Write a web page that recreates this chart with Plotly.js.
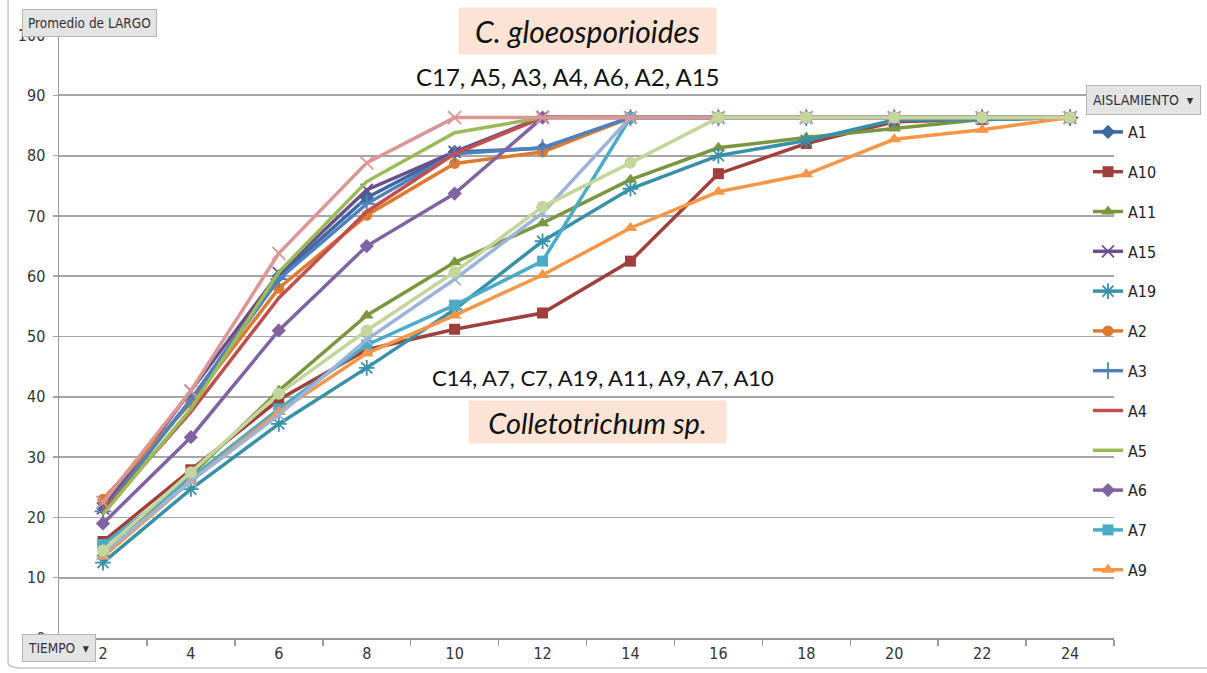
<!DOCTYPE html>
<html>
<head>
<meta charset="utf-8">
<script src="https://cdn.plot.ly/plotly-3.0.1.min.js"></script>
<style>html,body{margin:0;padding:0;background:#fff;}#chart{width:1207px;height:673px;}</style>
</head>
<body>
<div id="chart"></div>
<script>
// TIEMPO categories
const tiempo = ['2','4','6','8','10','12','14','16','18','20','22','24'];

// Promedio de LARGO per AISLAMIENTO
const A1  = [21.5, 39.5, 60.0, 73.0, 80.6, 81.2, 86.3, 86.3, 86.3, 86.3, 86.3, 86.3];
const A10 = [16.0, 27.9, 39.5, 47.8, 51.2, 53.9, 62.5, 77.0, 82.0, 85.6, 86.0, 86.3];
const A11 = [14.0, 27.0, 41.0, 53.5, 62.3, 68.8, 76.0, 81.3, 83.0, 84.5, 86.0, 86.3];
const A15 = [21.5, 41.0, 60.5, 74.3, 80.6, 86.4, 86.3, 86.3, 86.3, 86.3, 86.3, 86.3];
const A19 = [12.5, 24.7, 35.5, 44.8, 54.5, 65.8, 74.5, 80.0, 82.5, 85.9, 86.0, 86.3];
const A2  = [23.0, 39.0, 58.0, 70.1, 78.7, 80.6, 86.3, 86.3, 86.3, 86.3, 86.3, 86.3];
const A3  = [21.0, 39.5, 59.5, 72.0, 80.3, 81.3, 86.3, 86.3, 86.3, 86.3, 86.3, 86.3];
const A4  = [21.0, 37.5, 56.4, 70.7, 80.3, 86.3, 86.3, 86.3, 86.3, 86.3, 86.3, 86.3];
const A5  = [20.5, 38.0, 60.7, 75.7, 83.8, 86.3, 86.3, 86.3, 86.3, 86.3, 86.3, 86.3];
const A6  = [19.0, 33.3, 51.0, 65.0, 73.7, 86.3, 86.3, 86.3, 86.3, 86.3, 86.3, 86.3];
const A7  = [15.5, 26.5, 38.0, 48.6, 55.2, 62.5, 86.3, 86.3, 86.3, 86.3, 86.3, 86.3];
const A9  = [13.5, 26.0, 37.5, 47.2, 53.5, 60.2, 68.0, 74.0, 76.9, 82.7, 84.3, 86.3];
// series not shown in the (truncated) legend
const C7  = [14.0, 26.0, 37.0, 49.5, 59.5, 70.5, 86.3, 86.3, 86.3, 86.3, 86.3, 86.3];
const C17 = [22.5, 41.0, 63.8, 78.8, 86.3, 86.3, 86.3, 86.3, 86.3, 86.3, 86.3, 86.3];
const C14 = [14.5, 27.5, 40.5, 51.0, 60.7, 71.5, 78.8, 86.3, 86.3, 86.3, 86.3, 86.3];

const yTicks = [0,10,20,30,40,50,60,70,80,90,100];

function tr(name, y, color, symbol, size, legend, open) {
  const t = {
    type: 'scatter', x: tiempo, y: y, name: name, legendgroup: name,
    showlegend: legend,
    mode: symbol ? 'lines+markers' : 'lines',
    line: {color: color, width: 3.5},
    hoverinfo: 'x+y+name'
  };
  if (symbol) {
    t.marker = {symbol: symbol, size: size, color: color,
      line: open ? {color: color, width: 1.8} : {width: 0}};
  }
  return t;
}

const data = [
  tr('A1',  A1,  '#3C69A0', 'diamond', 11, true),
  tr('A10', A10, '#A0403D', 'square', 11, true),
  tr('A11', A11, '#7A973F', 'triangle-up', 12, true),
  tr('A15', A15, '#6B4E8C', 'x-thin-open', 12, true, true),
  tr('A19', A19, '#3891A7', 'asterisk-open', 13, true, true),
  tr('A2',  A2,  '#DB7B2F', 'circle', 11, true),
  tr('A3',  A3,  '#4F81BD', 'cross-thin-open', 12, true, true),
  tr('A4',  A4,  '#C0504D', null, 0, true),
  tr('A5',  A5,  '#9BBB59', null, 0, true),
  tr('A6',  A6,  '#8064A2', 'diamond', 11, true),
  tr('A7',  A7,  '#4BACC6', 'square', 11, true),
  tr('A9',  A9,  '#F79646', 'triangle-up', 12, true),
  tr('C7',  C7,  '#9DB3D9', 'x-thin-open', 12, false, true),
  tr('C17', C17, '#D99795', 'x-thin-open', 13, false, true),
  tr('C14', C14, '#C3D69B', 'circle', 12, false)
];

const cond = '"DejaVu Sans Condensed", "DejaVu Sans", sans-serif';
const tickFont = {family: cond, size: 16, color: '#333'};
const btnFont = {family: cond, size: 13.5, color: '#333'};
const calFont = {family: 'Lato, "Open Sans", sans-serif', color: '#111'};

const layout = {
  width: 1207, height: 673,
  margin: {l: 59, r: 93, t: 35, b: 35, pad: 0, autoexpand: false},
  paper_bgcolor: '#fff', plot_bgcolor: '#fff',
  showlegend: true,
  xaxis: {
    type: 'category', tickson: 'boundaries', automargin: false,
    range: [-0.5, tiempo.length - 0.5], autorange: false,
    showgrid: false, zeroline: false,
    showline: true, linecolor: '#999', linewidth: 1.5,
    ticks: 'outside', ticklen: 6, tickcolor: '#999', tickwidth: 1.5,
    tickfont: tickFont, ticklabelstandoff: 0
  },
  yaxis: {
    range: [0, 100], autorange: false, tickvals: yTicks, ticktext: yTicks.map(String), automargin: false,
    showgrid: true, gridcolor: '#a6a6a6', gridwidth: 1.8,
    zeroline: false, showline: true, linecolor: '#999', linewidth: 1.5,
    ticks: 'outside', ticklen: 5, tickcolor: '#a6a6a6', tickwidth: 1.5,
    tickfont: tickFont, ticklabelstandoff: 4
  },
  legend: {
    x: (1088 - 59) / 1055, xref: 'paper', y: (638 - 115) / 603, yanchor: 'top', xanchor: 'left',
    bgcolor: 'rgba(0,0,0,0)', borderwidth: 0,
    font: {family: cond, size: 16, color: '#222'},
    tracegroupgap: 16, traceorder: 'grouped', itemwidth: 30
  },
  shapes: [
    {type: 'path', xref: 'paper', yref: 'paper', layer: 'below',
     path: 'M -0.0483 1.06 L -0.0483 -0.04 Q -0.0483 -0.0497 -0.037 -0.0497 L 1.09 -0.0497',
     line: {color: '#c8c8c8', width: 1.5}}
  ],
  annotations: [
    {text: '<i>C. gloeosporioides</i>', xref: 'paper', yref: 'paper',
     x: (587 - 59) / 1055, y: (638 - 31) / 603, xanchor: 'center', yanchor: 'middle', showarrow: false,
     bgcolor: '#FBE4D5', width: 257, height: 46, borderpad: 0,
     font: Object.assign({size: 30}, calFont)},
    {text: 'C17, A5, A3, A4, A6, A2, A15', xref: 'paper', yref: 'paper',
     x: (568 - 59) / 1055, y: (638 - 76) / 603, xanchor: 'center', yanchor: 'middle', showarrow: false,
     font: Object.assign({size: 24}, calFont)},
    {text: 'C14, A7, C7, A19, A11, A9, A7, A10', xref: 'paper', yref: 'paper',
     x: (603 - 59) / 1055, y: (638 - 377) / 603, xanchor: 'center', yanchor: 'middle', showarrow: false,
     font: Object.assign({size: 22}, calFont)},
    {text: '<i>Colletotrichum sp.</i>', xref: 'paper', yref: 'paper',
     x: (598 - 59) / 1055, y: (638 - 422) / 603, xanchor: 'center', yanchor: 'middle', showarrow: false,
     bgcolor: '#FBE4D5', width: 257, height: 42, borderpad: 0,
     font: Object.assign({size: 29}, calFont)},
    {text: 'Promedio de LARGO', xref: 'paper', yref: 'paper',
     x: (22 - 59) / 1055, y: (638 - 9) / 603, xanchor: 'left', yanchor: 'top', showarrow: false,
     bgcolor: '#e4e4e4', bordercolor: '#b4b4b4', borderwidth: 1, borderpad: 5,
     font: btnFont},
    {text: 'TIEMPO  ▾', xref: 'paper', yref: 'paper',
     x: (22 - 59) / 1055, y: (638 - 634) / 603, xanchor: 'left', yanchor: 'top', showarrow: false,
     bgcolor: '#e4e4e4', bordercolor: '#b4b4b4', borderwidth: 1, borderpad: 5,
     font: btnFont},
    {text: 'AISLAMIENTO  ▾', xref: 'paper', yref: 'paper',
     x: (1086 - 59) / 1055, y: (638 - 85) / 603, xanchor: 'left', yanchor: 'top', showarrow: false,
     bgcolor: '#e4e4e4', bordercolor: '#b4b4b4', borderwidth: 1, borderpad: 6,
     font: {family: cond, size: 14, color: '#333'}}
  ]
};

Plotly.newPlot('chart', data, layout, {displayModeBar: false, staticPlot: true});
</script>
</body>
</html>
